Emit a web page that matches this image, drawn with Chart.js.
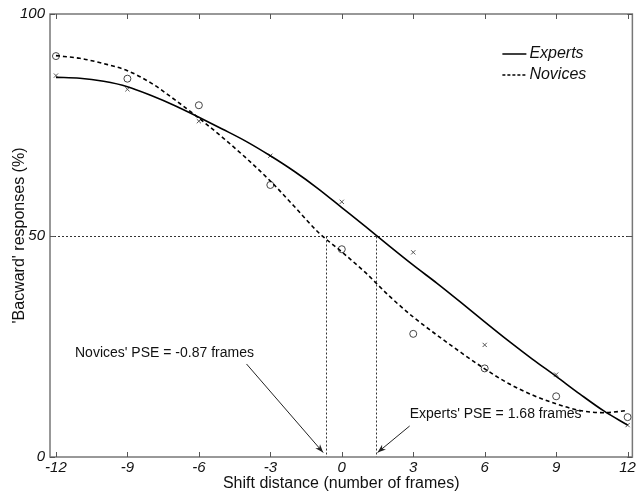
<!DOCTYPE html>
<html>
<head>
<meta charset="utf-8">
<script src="https://cdn.jsdelivr.net/npm/chart.js@4"></script>
<style>
  html, body { margin: 0; padding: 0; background: #fff; }
  #wrap { width: 638px; height: 494px; }
</style>
</head>
<body>
<div id="wrap"><canvas id="myChart" width="638" height="494"></canvas></div>
<script>
// observed responses
const pointX = [-12, -9, -6, -3, 0, 3, 6, 9, 12];
const expertsPts = [86.1, 83.0, 75.8, 68.0, 57.6, 46.2, 25.3, 18.6, 7.2];
const novicesPts = [90.5, 85.4, 79.4, 61.4, 46.9, 27.8, 20.0, 13.7, 9.0];

// fitted curves
const curveX = [-12, -11, -10, -9, -8, -7, -6, -5, -4, -3, -2, -1, 0, 1, 2, 3, 4, 5, 6, 7, 8, 9, 10, 11, 12];
const expertsCurve = [85.7, 85.5, 84.8, 83.6, 81.6, 79.3, 76.7, 74.0, 71.2, 68.0, 64.5, 60.6, 56.3, 52.0, 47.6, 43.3, 39.2, 34.9, 30.5, 26.2, 22.1, 18.2, 14.2, 10.4, 7.2];
const novicesCurve = [90.6, 90.0, 88.8, 87.2, 84.4, 80.6, 76.5, 72.1, 67.4, 62.3, 56.6, 50.8, 46.3, 41.6, 36.3, 31.6, 27.5, 23.6, 19.9, 16.6, 14.0, 12.0, 10.5, 10.0, 10.5];

const xTicks = [-12, -9, -6, -3, 0, 3, 6, 9, 12];
const yTicks = [0, 50, 100];
const pseLineX = [-0.67, 1.45];
const pseLabels = ["Novices' PSE = -0.87 frames", "Experts' PSE = 1.68 frames"];

function toXY(xs, ys) {
    return xs.map((x, i) => ({ x: x, y: ys[i] }));
}

const extras = {
    id: 'extras',
    beforeDatasetsDraw(chart) {
        const c = chart.ctx, a = chart.chartArea;
        const xs = chart.scales.x, ys = chart.scales.y;
        c.save();
        c.strokeStyle = '#333';
        c.lineWidth = 1;
        c.setLineDash([2, 2]);
        const y50 = Math.round(ys.getPixelForValue(50)) + 0.5;
        c.beginPath();
        c.moveTo(a.left, y50);
        c.lineTo(a.right, y50);
        pseLineX.forEach(v => {
            const px = Math.round(xs.getPixelForValue(v)) + 0.5;
            c.moveTo(px, y50);
            c.lineTo(px, a.bottom);
        });
        c.stroke();
        c.restore();
    },
    afterDraw(chart) {
        const c = chart.ctx, a = chart.chartArea;
        const xs = chart.scales.x, ys = chart.scales.y;
        c.save();
        // box and inward ticks
        c.strokeStyle = '#777';
        c.lineWidth = 1.5;
        c.strokeRect(a.left, a.top, a.right - a.left, a.bottom - a.top);
        c.lineWidth = 1;
        c.strokeStyle = '#555';
        c.beginPath();
        xTicks.forEach(v => {
            const px = Math.round(xs.getPixelForValue(v)) + 0.5;
            c.moveTo(px, a.bottom);
            c.lineTo(px, a.bottom - 5);
            c.moveTo(px, a.top);
            c.lineTo(px, a.top + 5);
        });
        yTicks.forEach(v => {
            const py = Math.round(ys.getPixelForValue(v)) + 0.5;
            c.moveTo(a.left, py);
            c.lineTo(a.left + 5, py);
            c.moveTo(a.right, py);
            c.lineTo(a.right - 5, py);
        });
        c.stroke();

        // legend
        const lx = a.right - 130;
        c.strokeStyle = '#000';
        c.lineWidth = 1.5;
        c.beginPath();
        c.moveTo(lx, a.top + 40);
        c.lineTo(lx + 24, a.top + 40);
        c.stroke();
        c.setLineDash([3, 2]);
        c.beginPath();
        c.moveTo(lx, a.top + 61);
        c.lineTo(lx + 24, a.top + 61);
        c.stroke();
        c.setLineDash([]);
        c.fillStyle = '#111';
        c.font = 'italic 16px "Liberation Sans", Arial, sans-serif';
        c.textBaseline = 'middle';
        c.textAlign = 'left';
        c.fillText('Experts', lx + 27, a.top + 40);
        c.fillText('Novices', lx + 27, a.top + 61);

        // PSE annotations
        c.font = '14px "Liberation Sans", Arial, sans-serif';
        c.fillText(pseLabels[0], xs.getPixelForValue(-11.2), ys.getPixelForValue(23.5));
        c.fillText(pseLabels[1], xs.getPixelForValue(2.85), ys.getPixelForValue(9.6));
        arrow(c, xs.getPixelForValue(-4.0), ys.getPixelForValue(21.0), xs.getPixelForValue(-0.78), ys.getPixelForValue(1.0));
        arrow(c, xs.getPixelForValue(2.85), ys.getPixelForValue(7.0), xs.getPixelForValue(1.5), ys.getPixelForValue(1.0));
        c.restore();
    }
};

function arrow(c, x1, y1, x2, y2) {
    const ang = Math.atan2(y2 - y1, x2 - x1);
    c.strokeStyle = '#222';
    c.fillStyle = '#222';
    c.lineWidth = 1;
    c.beginPath();
    c.moveTo(x1, y1);
    c.lineTo(x2, y2);
    c.stroke();
    c.beginPath();
    c.moveTo(x2, y2);
    c.lineTo(x2 - 9 * Math.cos(ang - 0.35), y2 - 9 * Math.sin(ang - 0.35));
    c.lineTo(x2 - 6 * Math.cos(ang), y2 - 6 * Math.sin(ang));
    c.lineTo(x2 - 9 * Math.cos(ang + 0.35), y2 - 9 * Math.sin(ang + 0.35));
    c.closePath();
    c.fill();
}

const ctx = document.getElementById('myChart').getContext('2d');
new Chart(ctx, {
    type: 'scatter',
    plugins: [extras],
    data: {
        datasets: [{
            label: 'Experts',
            data: toXY(curveX, expertsCurve),
            showLine: true,
            borderColor: '#000',
            borderWidth: 1.6,
            pointRadius: 0,
            cubicInterpolationMode: 'monotone'
        }, {
            label: 'Novices',
            data: toXY(curveX, novicesCurve),
            showLine: true,
            borderColor: '#000',
            borderWidth: 1.6,
            borderDash: [4, 3],
            pointRadius: 0,
            cubicInterpolationMode: 'monotone'
        }, {
            label: 'Experts data',
            data: toXY(pointX, expertsPts),
            pointStyle: 'crossRot',
            pointRadius: 3,
            borderColor: '#555',
            borderWidth: 1
        }, {
            label: 'Novices data',
            data: toXY(pointX, novicesPts),
            pointStyle: 'circle',
            pointRadius: 3.5,
            backgroundColor: 'rgba(255,255,255,0)',
            borderColor: '#444',
            borderWidth: 1
        }]
    },
    options: {
        responsive: false,
        animation: false,
        layout: { padding: { top: 12, right: 3, left: 0, bottom: 0 } },
        plugins: {
            legend: { display: false },
            tooltip: { enabled: false }
        },
        scales: {
            x: {
                type: 'linear',
                min: -12.25,
                max: 12.2,
                afterBuildTicks: s => { s.ticks = xTicks.map(v => ({ value: v })); },
                afterFit: s => { s.height = 37; },
                grid: { display: false, drawTicks: false },
                border: { display: false },
                ticks: {
                    padding: 2,
                    color: '#111',
                    font: { family: '"Liberation Sans", Arial, sans-serif', size: 15, style: 'italic' }
                },
                title: {
                    display: true,
                    text: 'Shift distance (number of frames)',
                    color: '#111',
                    padding: { top: 0, bottom: 1 },
                    font: { family: '"Liberation Sans", Arial, sans-serif', size: 16 }
                }
            },
            y: {
                min: 0,
                max: 100,
                afterBuildTicks: s => { s.ticks = yTicks.map(v => ({ value: v })); },
                afterFit: s => { s.width = 50; },
                grid: { display: false, drawTicks: false },
                border: { display: false },
                ticks: {
                    padding: 5,
                    color: '#111',
                    font: { family: '"Liberation Sans", Arial, sans-serif', size: 15, style: 'italic' }
                },
                title: {
                    display: true,
                    text: "'Bacward' responses (%)",
                    color: '#111',
                    padding: { top: 10, bottom: 0 },
                    font: { family: '"Liberation Sans", Arial, sans-serif', size: 16 }
                }
            }
        }
    }
});
</script>
</body>
</html>
